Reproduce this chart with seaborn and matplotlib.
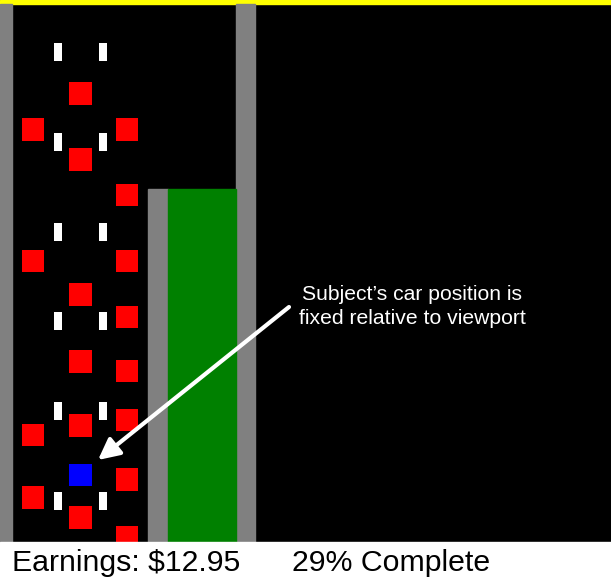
import pandas as pd
import matplotlib.pyplot as plt
import seaborn as sns
from matplotlib.patches import Rectangle

# Lanes (0 = left, 1 = middle, 2 = right) and the distance down the screen of each car
lane_x = [33, 80.5, 127]
car_lane = [1, 1, 1, 1, 1, 1,
            0, 0, 0, 0,
            2, 2, 2, 2, 2, 2, 2, 2,
            1]
car_pos = [93.5, 159.5, 294.5, 361.5, 425.5, 517.5,
           129.5, 261, 435, 497.5,
           129.5, 195, 261, 317, 371, 420, 479.5, 537,
           475]
car_kind = ['other'] * 18 + ['subject']

# Lane marking dashes (top of each dash)
dash_x = [58, 103]
dash_top = [43, 133, 223, 312, 402, 492]

note_lines = ['Subject\u2019s car position is', 'fixed relative to viewport']
earnings = 12.95
complete = 29

df = pd.DataFrame({'x': [lane_x[l] for l in car_lane], 'y': car_pos, 'kind': car_kind})

plt.rcParams['font.family'] = ['Liberation Sans', 'DejaVu Sans']
fig = plt.figure(figsize=(6.11, 5.81), dpi=100)
ax = fig.add_axes([0, 0, 1, 1])

# Scene background
ax.add_patch(Rectangle((0, 0), 611, 542, color='black', zorder=0))
ax.add_patch(Rectangle((0, 0), 611, 4, color='#ffff00', zorder=1))
ax.add_patch(Rectangle((0, 4), 12, 538, color='#808080', zorder=1))
ax.add_patch(Rectangle((236, 4), 19, 538, color='#808080', zorder=1))
ax.add_patch(Rectangle((148, 189), 20, 353, color='#808080', zorder=1))
ax.add_patch(Rectangle((168, 189), 68, 353, color='#008000', zorder=1))

# Lane dashes
for dx in dash_x:
    ax.bar([dx] * len(dash_top), [18] * len(dash_top), bottom=dash_top,
           width=8, color='white', zorder=2)

# Cars
sns.scatterplot(data=df, x='x', y='y', hue='kind',
                palette={'other': '#ff0000', 'subject': '#0000ff'},
                marker='s', s=274, linewidth=0, legend=False, ax=ax, zorder=3)

# Status strip covers anything below the road view
ax.add_patch(Rectangle((0, 542), 611, 39, color='white', zorder=5))

ax.set_xlim(0, 611)
ax.set_ylim(581, 0)
ax.axis('off')

# Annotation
ax.annotate('', xy=(98, 460), xytext=(289, 307),
            arrowprops=dict(arrowstyle='-|>', color='white', lw=3,
                            mutation_scale=32, shrinkA=0, shrinkB=0), zorder=4)
ax.text(412.5, 300, note_lines[0], ha='center', va='baseline', color='white', fontsize=15.2)
ax.text(412.5, 324.5, note_lines[1], ha='center', va='baseline', color='white', fontsize=15.2)

# Status line
ax.text(12, 571, f'Earnings: ${earnings:.2f}', ha='left', va='baseline', color='black',
        fontsize=21.8, zorder=6)
ax.text(292, 571, f'{complete}% Complete', ha='left', va='baseline', color='black',
        fontsize=21.8, zorder=6)

plt.savefig('out.png', dpi=100)
